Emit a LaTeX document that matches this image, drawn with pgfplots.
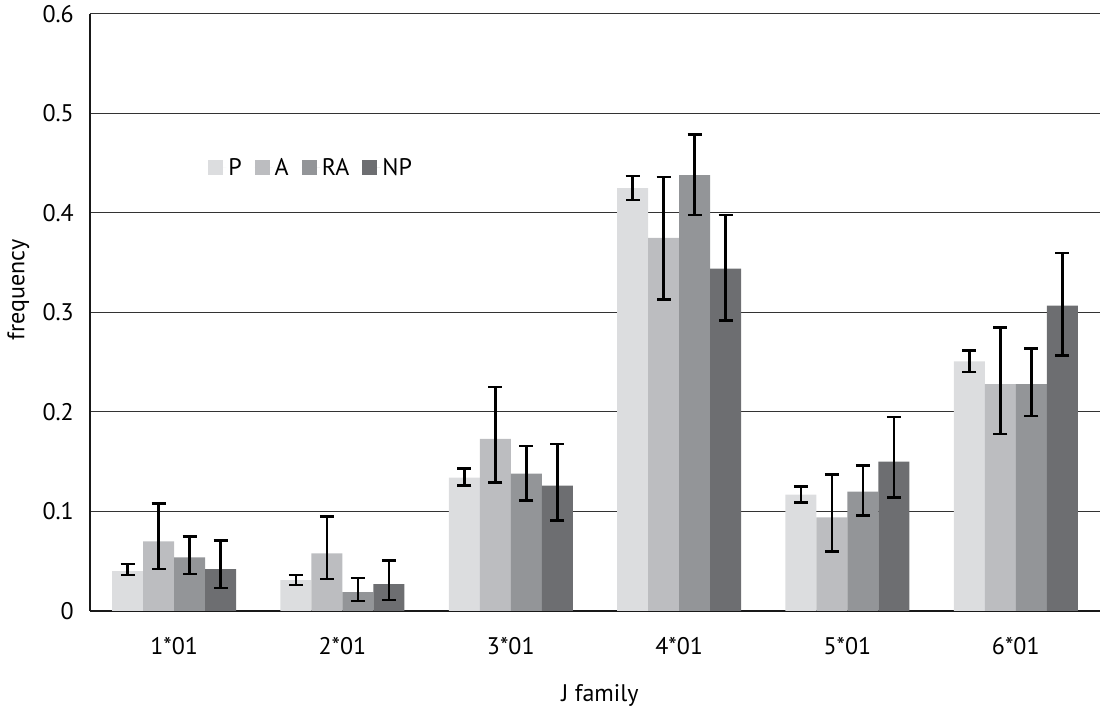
\documentclass[border=0pt]{standalone}
\usepackage{pgfplots}
\pgfplotsset{compat=1.18}
\usepackage{fontspec}
\setmainfont{PT Sans}
\definecolor{cP}{HTML}{DCDDDF}
\definecolor{cA}{HTML}{BCBDC0}
\definecolor{cRA}{HTML}{939598}
\definecolor{cNP}{HTML}{6D6E71}
\begin{document}
\begin{tikzpicture}[font=\fontsize{24}{28}\selectfont]
\path[use as bounding box] (-90pt,-100pt) rectangle (1012pt,611pt);
\begin{axis}[
  at={(0pt,0pt)}, anchor=south west,
  scale only axis, width=1010pt, height=597pt,
  ybar=0pt, bar width=31pt,
  xmin=-0.5, xmax=5.5, ymin=0, ymax=0.6,
  xtick=data, xticklabels={1*01,2*01,3*01,4*01,5*01,6*01},
  ytick={0,0.1,0.2,0.3,0.4,0.5,0.6},
  yticklabels={0,0.1,0.2,0.3,0.4,0.5,0.6},
  major tick length=0pt,
  axis x line*=bottom, axis y line*=left,
  axis line style={line width=2.5pt, black!90},
  ymajorgrids, grid style={line width=1pt, black!80},
  /pgf/number format/assume math mode=true,
  tick label style={font=\fontsize{24}{28}\selectfont},
  yticklabel style={anchor=east, inner sep=0pt, xshift=-16pt},
  xticklabel style={anchor=center, inner sep=0pt, yshift=-35pt},
  xlabel={J family}, ylabel={frequency},
  label style={font=\fontsize{24}{28}\selectfont},
  xlabel style={at={(axis description cs:0.505,-0.141)}, anchor=center},
  ylabel style={at={(axis description cs:-0.071,0.538)}, anchor=center, rotate=0},
  legend style={draw=none, fill=none, at={(axis description cs:0.114,0.743)}, anchor=west,
    legend columns=4, font=\fontsize{24}{28}\selectfont,
    /tikz/every even column/.append style={column sep=11pt}},
  legend image code/.code={\fill[#1,draw=none] (0pt,-7.5pt) rectangle (15pt,7.5pt);\path (0pt,0pt) -- (18pt,0pt);},
  error bars/y dir=both, error bars/y explicit,
  error bars/error bar style={line width=2.5pt, black},
  error bars/error mark options={rotate=90, mark size=7pt, line width=2.5pt, black},
]
\addplot[fill=cP, draw=none] table[x=x, y=y, y error plus=ep, y error minus=em] {
x y ep em
0 0.040 0.007 0.004
1 0.031 0.005 0.005
2 0.134 0.009 0.008
3 0.425 0.012 0.012
4 0.117 0.008 0.008
5 0.251 0.011 0.011
};
\addplot[fill=cA, draw=none] table[x=x, y=y, y error plus=ep, y error minus=em] {
x y ep em
0 0.070 0.038 0.028
1 0.058 0.037 0.026
2 0.173 0.052 0.044
3 0.375 0.061 0.062
4 0.094 0.043 0.034
5 0.228 0.057 0.050
};
\addplot[fill=cRA, draw=none] table[x=x, y=y, y error plus=ep, y error minus=em] {
x y ep em
0 0.054 0.021 0.017
1 0.019 0.014 0.009
2 0.138 0.028 0.027
3 0.438 0.041 0.040
4 0.120 0.026 0.024
5 0.228 0.036 0.032
};
\addplot[fill=cNP, draw=none] table[x=x, y=y, y error plus=ep, y error minus=em] {
x y ep em
0 0.042 0.029 0.019
1 0.027 0.024 0.016
2 0.126 0.042 0.035
3 0.344 0.054 0.052
4 0.150 0.045 0.036
5 0.307 0.053 0.050
};
\legend{P,A,RA,NP}
\end{axis}
\end{tikzpicture}
\end{document}
